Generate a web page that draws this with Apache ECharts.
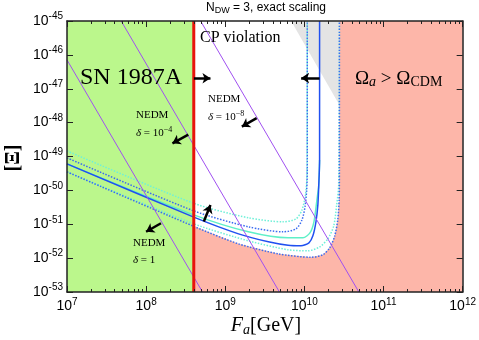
<!DOCTYPE html>
<html>
<head>
<meta charset="utf-8">
<script src="https://cdn.jsdelivr.net/npm/echarts@6.0.0/dist/echarts.min.js"></script>
<style>
  html, body { margin: 0; padding: 0; background: #fff; }
  #chart { width: 479px; height: 340px; }
</style>
</head>
<body>
<div id="chart"></div>
<script>
// axis ticks (decades)
var xTicks = [1e7, 1e8, 1e9, 1e10, 1e11, 1e12]
var yTicks = [1e-53, 1e-52, 1e-51, 1e-50, 1e-49, 1e-48, 1e-47, 1e-46, 1e-45]
var xMinor = []
xTicks.slice(0, -1).forEach(function (d) {
  for (var k = 2; k <= 9; k++) xMinor.push(d * k)
})

// SN 1987A bound on F_a
var snBound = 4e8

// NEDM lines (end points)
var nedmDelta1 = [[1e7, 7.1e-47], [5.16e8, 1e-53]]
var nedmDelta4 = [[4.84e7, 1e-45], [4.84e9, 1e-53]]
var nedmDelta8 = [[4.88e8, 1e-45], [4.88e10, 1e-53]]

// contours [F_a, Xi]
var blueSolid = [[1e7, 6.05e-50], [4e8, 1.62e-51], [1.47e9, 5.21e-52], [3.5e9, 3.03e-52], [6.23e9, 2.39e-52],
  [9.06e9, 2.31e-52], [1.142e10, 2.83e-52], [1.28e10, 4.55e-52], [1.40e10, 1.18e-51], [1.48e10, 3.73e-51],
  [1.52e10, 1.45e-50], [1.556e10, 7.94e-50], [1.556e10, 1e-45]]
var blueOuter = [[1e7, 3.52e-50], [4e8, 8.67e-52], [1.47e9, 2.64e-52], [4.67e9, 1.34e-52], [1.21e10, 1.06e-52],
  [1.71e10, 1.25e-52], [2.09e10, 2.01e-52], [2.42e10, 4.55e-52], [2.64e10, 1.35e-51], [2.75e10, 5.25e-51],
  [2.77e10, 4.03e-50], [2.77e10, 1e-45]]
var blueInner = [[1e7, 9.1e-50], [4e8, 2.48e-51], [1.96e9, 8.38e-52], [5.4e9, 5.97e-52], [7.85e9, 7.31e-52],
  [9.33e9, 1.35e-51], [1.018e10, 3.26e-51], [1.069e10, 1.03e-50], [1.087e10, 4.03e-50], [1.087e10, 1e-45]]
var cyanSolid = [[1e7, 6.05e-50], [4e8, 1.89e-51], [1.96e9, 5.97e-52], [6.23e9, 3.97e-52], [9.6e9, 3.97e-52],
  [1.175e10, 5.57e-52], [1.32e10, 1.18e-51], [1.44e10, 5.25e-51], [1.52e10, 1.45e-50], [1.556e10, 7.94e-50]]
var cyanUpper = [[1e7, 1.46e-49], [4e8, 4.14e-51], [1.96e9, 1.55e-51], [5.4e9, 1.18e-51], [7.85e9, 1.44e-51],
  [9.33e9, 2.66e-51], [1.033e10, 7.4e-51], [1.078e10, 2.86e-50], [1.087e10, 1e-45]]
var cyanLower = [[1e7, 3.52e-50], [4e8, 1.03e-51], [1.96e9, 3.24e-52], [6.23e9, 1.76e-52], [1.109e10, 1.64e-52],
  [1.567e10, 2.15e-52], [1.98e10, 3.71e-52], [2.35e10, 8.97e-52], [2.56e10, 3.73e-51], [2.71e10, 1.45e-50],
  [2.77e10, 1e-45]]

// shaded regions
var grayWedge = [[6.8e9, 1e-45], [2.77e10, 1e-45], [2.77e10, 3.3e-48]]

// arrows [from, to]
var arrows = [
  [[4.02e8, 2.04e-47], [6.5e8, 2.04e-47]],
  [[1.556e10, 2.07e-47], [9.1e9, 2.07e-47]],
  [[3.41e8, 4.4e-49], [2.15e8, 2.45e-49]],
  [[2.49e9, 1.35e-48], [1.62e9, 7.6e-49]],
  [[1.54e8, 1.07e-51], [9.98e7, 6.0e-52]],
  [[5.36e8, 1.2e-51], [6.5e8, 3.7e-51]]
]

// echarts log axis misbehaves with values ~1e-50, so the y axis counts in units of 1e-53
var Y_UNIT = 1e-53
function pt(p) { return [p[0], p[1] / Y_UNIT] }
function pts(list) { return list.map(pt) }

var SANS = '"Liberation Sans", Arial, sans-serif'
var SERIF = '"Liberation Serif", "DejaVu Serif", serif'

var chart = echarts.init(document.getElementById('chart'))

function xLabel(v) {
  return '{b|10}{s|' + Math.round(Math.log10(v)) + '}'
}
function yLabel(v) {
  return '{b|10}{s|' + Math.round(Math.log10(v * Y_UNIT)) + '}'
}
var labelRich = {
  b: { fontSize: 14, fontFamily: SANS, color: '#000' },
  s: { fontSize: 10, fontFamily: SANS, color: '#000', padding: [0, 0, 9, 0] }
}

function region(points, color, z) {
  var data = pts(points)
  return {
    type: 'custom',
    data: data,
    z: z,
    silent: true,
    renderItem: function (params, api) {
      if (params.dataIndex !== 0) return null
      return {
        type: 'polygon',
        shape: { points: data.map(function (p) { return api.coord(p) }) },
        style: { fill: color }
      }
    }
  }
}

function curve(data, color, type, z) {
  return {
    type: 'line',
    data: pts(data),
    showSymbol: false,
    symbol: 'none',
    smooth: 0.25,
    z: z,
    silent: true,
    lineStyle: { color: color, width: 1.5, type: type }
  }
}

function straight(data, color, width, z) {
  return {
    type: 'line',
    data: pts(data),
    showSymbol: false,
    symbol: 'none',
    z: z,
    silent: true,
    lineStyle: { color: color, width: width }
  }
}

var pinkRegion = [[snBound, 1e-53]]
  .concat(blueOuter.filter(function (p) { return p[0] >= snBound }))
  .concat([[1e12, 1e-45], [1e12, 1e-53]])
var greenRegion = [[1e7, 1e-53], [1e7, 1e-45], [snBound, 1e-45], [snBound, 1e-53]]

function xAxis(pos, labels, ticks, len) {
  return {
    type: 'log', logBase: 10, min: 1e7, max: 1e12, position: pos, z: 10,
    axisLine: { show: ticks === xTicks, lineStyle: { color: '#222', width: 1.5 } },
    axisTick: { inside: true, length: len, customValues: ticks, lineStyle: { color: '#222', width: 1 } },
    axisLabel: labels ? { customValues: xTicks, formatter: xLabel, rich: labelRich, margin: 5 } : { show: false },
    splitLine: { show: false }
  }
}
var yTickVals = yTicks.map(function (v) { return v / Y_UNIT })
function yAxis(pos, labels) {
  return {
    type: 'log', logBase: 10, min: yTickVals[0], max: yTickVals[yTickVals.length - 1], position: pos, z: 10,
    axisLine: { show: true, lineStyle: { color: '#222', width: 1.5 } },
    axisTick: { inside: true, length: 6, customValues: yTickVals, lineStyle: { color: '#222', width: 1 } },
    axisLabel: labels ? { customValues: yTickVals, formatter: yLabel, rich: labelRich, margin: 4 } : { show: false },
    splitLine: { show: false }
  }
}

chart.setOption({
  animation: false,
  grid: { left: 67, right: 13, top: 21, bottom: 48, containLabel: false },
  xAxis: [
    xAxis('bottom', true, xTicks, 6),
    xAxis('bottom', false, xMinor, 3),
    xAxis('top', false, xTicks, 6),
    xAxis('top', false, xMinor, 3)
  ],
  yAxis: [
    yAxis('left', true),
    yAxis('right', false)
  ],
  series: [
    region(greenRegion, '#bbf78c', 1),
    region(pinkRegion, '#fdb6a9', 1),
    region(grayWedge, '#e4e4e4', 1),
    curve(cyanUpper, '#6ff0d8', 'dotted', 3),
    curve(cyanLower, '#6ff0d8', 'dotted', 3),
    curve(cyanSolid, '#5ff0c8', 'solid', 3),
    curve(blueInner, '#3a6cf0', 'dotted', 4),
    curve(blueOuter, '#3a6cf0', 'dotted', 4),
    curve(blueSolid, '#2050f0', 'solid', 4),
    straight(nedmDelta1, '#a050f0', 1, 5),
    straight(nedmDelta4, '#a050f0', 1, 5),
    straight(nedmDelta8, '#a050f0', 1, 5),
    straight([[snBound, 1e-53], [snBound, 1e-45]], '#e8140c', 3, 6),
    {
      type: 'lines',
      coordinateSystem: 'cartesian2d',
      data: arrows.map(function (a) { return { coords: pts(a) } }),
      symbol: ['none', 'arrow'],
      symbolSize: 8,
      z: 7,
      silent: true,
      lineStyle: { color: '#000', width: 2.5, opacity: 1, curveness: 0 }
    }
  ],
  graphic: [
    { type: 'text', x: 266, y: 8, style: { text: 'N{s|DW} = 3, exact scaling', rich: { s: { fontSize: 9, fontFamily: SANS, padding: [6, 0, 0, 0] } }, font: '12px ' + SANS, fill: '#000', align: 'center', verticalAlign: 'middle' } },
    { type: 'text', x: 80, y: 78, z: 10, style: { text: 'SN 1987A', font: '24px ' + SERIF, fill: '#000', verticalAlign: 'middle' } },
    { type: 'text', x: 200, y: 38, z: 10, style: { text: 'CP violation', font: '16px ' + SERIF, fill: '#000', verticalAlign: 'middle' } },
    { type: 'text', x: 355, y: 79, z: 10, style: { text: 'Ω{i|a} > Ω{c|CDM}', font: '19px ' + SERIF, fill: '#000', verticalAlign: 'middle',
      rich: { i: { fontSize: 14, fontStyle: 'italic', fontFamily: SERIF, padding: [7, 0, 0, 0] }, c: { fontSize: 14, fontFamily: SERIF, padding: [7, 0, 0, 0] } } } },
    { type: 'text', x: 208, y: 99, z: 10, style: { text: 'NEDM', font: '11px ' + SERIF, fill: '#000', verticalAlign: 'middle' } },
    { type: 'text', x: 208, y: 117, z: 10, style: { text: '{i|δ} = 10{s|−8}', font: '11px ' + SERIF, fill: '#000', verticalAlign: 'middle', rich: { i: { fontStyle: 'italic', fontSize: 11, fontFamily: SERIF }, s: { fontSize: 8, fontFamily: SERIF, padding: [0, 0, 6, 0] } } } },
    { type: 'text', x: 136, y: 115, z: 10, style: { text: 'NEDM', font: '11px ' + SERIF, fill: '#000', verticalAlign: 'middle' } },
    { type: 'text', x: 136, y: 133, z: 10, style: { text: '{i|δ} = 10{s|−4}', font: '11px ' + SERIF, fill: '#000', verticalAlign: 'middle', rich: { i: { fontStyle: 'italic', fontSize: 11, fontFamily: SERIF }, s: { fontSize: 8, fontFamily: SERIF, padding: [0, 0, 6, 0] } } } },
    { type: 'text', x: 133, y: 243, z: 10, style: { text: 'NEDM', font: '11px ' + SERIF, fill: '#000', verticalAlign: 'middle' } },
    { type: 'text', x: 133, y: 260, z: 10, style: { text: '{i|δ} = 1', font: '11px ' + SERIF, fill: '#000', verticalAlign: 'middle', rich: { i: { fontStyle: 'italic', fontSize: 11, fontFamily: SERIF } } } },
    { type: 'text', x: 266, y: 326, style: { text: '{i|F}{s|a}[GeV]', font: '20px ' + SERIF, fill: '#000', align: 'center', verticalAlign: 'middle', rich: { i: { fontStyle: 'italic', fontSize: 20, fontFamily: SERIF }, s: { fontStyle: 'italic', fontSize: 14, fontFamily: SERIF, padding: [8, 0, 0, 0] } } } },
    { type: 'text', x: 14, y: 158, rotation: Math.PI / 2, style: { text: '[Ξ]', font: 'bold 20px ' + SERIF, fill: '#000', align: 'center', verticalAlign: 'middle' } }
  ]
})
</script>
</body>
</html>
